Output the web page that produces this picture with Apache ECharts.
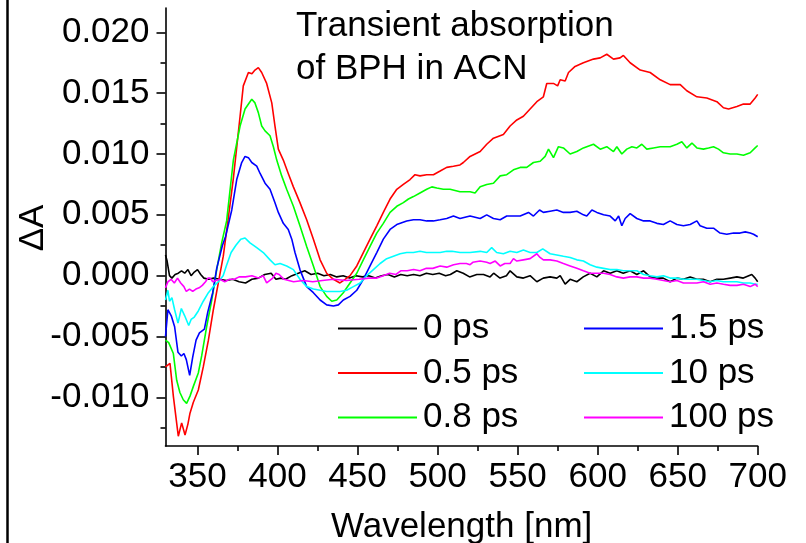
<!DOCTYPE html>
<html>
<head>
<meta charset="utf-8">
<script src="https://cdn.jsdelivr.net/npm/echarts@6/dist/echarts.min.js"></script>
<style>
  html, body { margin: 0; padding: 0; background: #fff; }
  #chart { width: 806px; height: 543px; }
</style>
</head>
<body>
<div id="chart"></div>
<script>
// Transient absorption spectra of BPH in acetonitrile at several pump-probe delays.
// Each delay has its own wavelength list (nm) and ΔA values.

const wl_0ps = [330, 331, 332.5, 334, 336, 338, 340, 342, 344, 346, 348, 350, 352, 354, 357, 360, 364, 368, 372, 376, 380, 384, 388, 392, 396, 399, 402, 405, 409, 413, 417, 421, 425, 429, 433, 437, 441, 445, 449, 453, 457, 461, 465, 469, 473, 477, 481, 485, 489, 493, 497, 501, 505, 508, 512, 516, 520, 524.5, 528.7, 532.8, 535, 539, 543, 545.3, 549.5, 553.6, 557.8, 562, 566, 570.3, 574.5, 576.6, 579.7, 582.8, 587, 591, 595.3, 599.5, 603.7, 607.8, 612, 616, 620.3, 624.5, 628.7, 632.8, 637, 641, 645.3, 649.5, 653.6, 657.8, 662, 666, 670.3, 674.5, 678.6, 682.8, 687, 691, 696.3, 698.4, 700];
const dA_0ps = [0.0017, 0.0012, 0.0000, -0.0002, 0.0001, 0.0002, 0.0004, 0.0002, 0.0005, 0.0000, 0.0003, 0.0005, 0.0001, -0.0002, -0.0003, -0.0002, -0.0003, -0.0004, -0.0003, -0.0005, -0.0006, -0.0003, -0.0002, 0.0001, 0.0002, -0.0003, -0.0002, -0.0003, 0.0000, 0.0002, 0.0004, 0.0001, 0.0002, 0.0000, 0.0001, -0.0001, 0.0000, -0.0002, 0.0000, -0.0001, 0.0000, -0.0002, 0.0000, 0.0001, -0.0001, 0.0001, 0.0000, 0.0001, 0.0000, 0.0002, 0.0001, 0.0002, 0.0000, 0.0001, 0.0004, 0.0002, -0.0001, 0.0001, 0.0001, -0.0001, 0.0002, -0.0002, 0.0000, 0.0004, -0.0001, -0.0002, 0.0000, -0.0005, -0.0002, -0.0001, -0.0002, 0.0000, -0.0007, -0.0003, -0.0005, -0.0001, 0.0002, -0.0001, 0.0004, 0.0002, 0.0004, 0.0002, 0.0004, 0.0001, 0.0004, -0.0001, -0.0002, -0.0002, -0.0005, -0.0002, -0.0003, -0.0001, -0.0003, -0.0003, -0.0005, -0.0003, -0.0003, -0.0002, -0.0001, -0.0002, 0.0001, -0.0002, -0.0005];

const wl_05ps = [330, 332.8, 334.9, 336.5, 338, 340.1, 342.2, 344, 345.3, 347.4, 350.5, 353.6, 356.8, 359.9, 363, 366.1, 369, 372.4, 376.6, 378.6, 381.8, 384, 385.9, 388, 390.1, 393.2, 396.4, 398.4, 400.5, 403.6, 406.7, 409.9, 414, 418.2, 422.4, 426.6, 430.7, 434.9, 439, 442.2, 445.3, 449.5, 453.6, 457.8, 462, 466.1, 470.3, 474.5, 478.6, 482.8, 485.9, 489, 493.2, 497.4, 501.6, 505.7, 509.9, 514, 516.1, 520.3, 526.6, 530.7, 534.9, 541.1, 545.3, 549.5, 553.6, 557.8, 562, 566.1, 568.2, 572.4, 575, 576.6, 579.7, 581.8, 585.9, 591.1, 597.4, 601.6, 605.7, 609.9, 614, 616.1, 620.3, 626.6, 632.8, 639.1, 645.3, 651.6, 655.7, 662, 668.2, 674.5, 678.6, 681.8, 687, 691.1, 695.3, 698.4, 700];
const dA_05ps = [-0.0075, -0.0072, -0.0099, -0.0116, -0.0132, -0.0121, -0.0131, -0.0122, -0.0113, -0.0104, -0.0094, -0.0075, -0.0053, -0.0028, -0.0006, 0.0016, 0.0045, 0.0080, 0.0131, 0.0156, 0.0167, 0.0166, 0.0169, 0.0171, 0.0167, 0.0158, 0.0142, 0.0123, 0.0104, 0.0095, 0.0084, 0.0073, 0.0060, 0.0046, 0.0030, 0.0013, 0.0002, -0.0003, -0.0006, -0.0003, 0.0000, 0.0008, 0.0019, 0.0030, 0.0041, 0.0052, 0.0063, 0.0071, 0.0075, 0.0079, 0.0083, 0.0082, 0.0083, 0.0083, 0.0086, 0.0089, 0.0090, 0.0091, 0.0093, 0.0098, 0.0102, 0.0108, 0.0113, 0.0116, 0.0123, 0.0128, 0.0131, 0.0137, 0.0143, 0.0147, 0.0158, 0.0158, 0.0156, 0.0161, 0.0160, 0.0167, 0.0172, 0.0175, 0.0178, 0.0179, 0.0182, 0.0178, 0.0179, 0.0181, 0.0175, 0.0169, 0.0167, 0.0161, 0.0157, 0.0157, 0.0152, 0.0147, 0.0146, 0.0143, 0.0138, 0.0137, 0.0139, 0.0141, 0.0141, 0.0146, 0.0149];

const wl_08ps = [330, 332, 334.9, 337, 339, 341.1, 343.2, 345.3, 347.4, 350.5, 352.6, 355.7, 358.9, 362, 365.1, 368.2, 372.4, 376.6, 379.7, 382.8, 383.9, 385.9, 388, 390.1, 392.2, 395.3, 397.4, 399.5, 402.6, 405.7, 409.9, 414, 418.2, 422.4, 426.6, 430.7, 433.9, 437, 441.1, 445.3, 449.5, 453.6, 457.8, 462, 466.1, 470.3, 474.5, 478.6, 481.8, 484.9, 489, 493.2, 496.4, 499.5, 503.6, 507.8, 514, 520.3, 523.4, 526.6, 530.7, 534.9, 539.1, 543.2, 547.4, 551.6, 555.7, 559.9, 564.1, 567.2, 569.3, 572.4, 575.5, 578.6, 582.8, 587, 591.1, 597.4, 601.6, 605.7, 609.9, 612, 615.1, 618.2, 621.4, 624.5, 627.6, 630.7, 634.9, 639.1, 645.3, 649.5, 652.6, 655.7, 658.9, 662, 666.1, 669.3, 672.4, 675.5, 678.6, 682.8, 687, 691.1, 695.3, 698.4, 700];
const dA_08ps = [-0.0053, -0.0055, -0.0064, -0.0086, -0.0096, -0.0102, -0.0105, -0.0099, -0.0091, -0.0080, -0.0066, -0.0042, -0.0020, 0.0005, 0.0027, 0.0045, 0.0095, 0.0123, 0.0137, 0.0143, 0.0145, 0.0142, 0.0134, 0.0123, 0.0119, 0.0115, 0.0106, 0.0095, 0.0082, 0.0071, 0.0057, 0.0041, 0.0024, 0.0008, -0.0009, -0.0017, -0.0021, -0.0020, -0.0014, -0.0006, 0.0002, 0.0013, 0.0024, 0.0035, 0.0043, 0.0052, 0.0057, 0.0060, 0.0063, 0.0065, 0.0068, 0.0071, 0.0073, 0.0072, 0.0071, 0.0071, 0.0069, 0.0069, 0.0068, 0.0073, 0.0075, 0.0076, 0.0082, 0.0083, 0.0087, 0.0089, 0.0089, 0.0093, 0.0094, 0.0098, 0.0104, 0.0097, 0.0106, 0.0105, 0.0100, 0.0102, 0.0105, 0.0108, 0.0104, 0.0106, 0.0102, 0.0106, 0.0100, 0.0104, 0.0106, 0.0105, 0.0108, 0.0104, 0.0105, 0.0106, 0.0106, 0.0108, 0.0110, 0.0105, 0.0109, 0.0105, 0.0104, 0.0105, 0.0106, 0.0104, 0.0101, 0.0100, 0.0100, 0.0099, 0.0101, 0.0105, 0.0107];

const wl_15ps = [330, 331.5, 333.6, 335.7, 337.8, 339.9, 341.5, 343, 345.1, 347, 349.1, 351.2, 354.3, 356.4, 359.5, 362, 365.6, 367.5, 371.4, 374.5, 377.6, 379.7, 381.8, 383.9, 387, 389.1, 392.2, 395.3, 398.4, 400.5, 403.6, 406.7, 408.9, 410.9, 414, 418.2, 422.4, 426.6, 430.7, 434.9, 438, 441.1, 445.3, 449.5, 453.6, 457.8, 462, 466.1, 470.3, 474.5, 480.7, 484.9, 489, 493.2, 497.4, 501.6, 505.7, 509.9, 514, 520.3, 526.6, 530.7, 534.9, 539.1, 543.2, 547.4, 551.6, 556.8, 559.9, 563.7, 566.1, 570.3, 574.5, 578.6, 582.8, 587, 591.1, 593.2, 596.4, 599.5, 603.7, 607.8, 611, 613.1, 615.1, 617.2, 620.3, 624.5, 628.7, 632.8, 637, 641.1, 645.3, 649.5, 653.6, 657.8, 662, 664, 668.2, 672.4, 676.5, 680.7, 684.9, 689, 692.2, 695.3, 697.4, 700];
const dA_15ps = [-0.0050, -0.0028, -0.0033, -0.0042, -0.0063, -0.0066, -0.0064, -0.0069, -0.0082, -0.0067, -0.0053, -0.0047, -0.0044, -0.0030, -0.0014, 0.0006, 0.0025, 0.0032, 0.0054, 0.0079, 0.0093, 0.0098, 0.0097, 0.0093, 0.0090, 0.0084, 0.0076, 0.0071, 0.0060, 0.0052, 0.0043, 0.0038, 0.0030, 0.0019, 0.0005, -0.0009, -0.0014, -0.0020, -0.0024, -0.0025, -0.0024, -0.0020, -0.0017, -0.0012, -0.0003, 0.0008, 0.0019, 0.0030, 0.0038, 0.0042, 0.0045, 0.0046, 0.0046, 0.0045, 0.0045, 0.0046, 0.0047, 0.0049, 0.0047, 0.0049, 0.0047, 0.0050, 0.0047, 0.0046, 0.0049, 0.0049, 0.0049, 0.0052, 0.0049, 0.0054, 0.0052, 0.0053, 0.0054, 0.0052, 0.0052, 0.0053, 0.0050, 0.0049, 0.0054, 0.0052, 0.0050, 0.0049, 0.0045, 0.0049, 0.0041, 0.0047, 0.0051, 0.0047, 0.0045, 0.0045, 0.0043, 0.0042, 0.0045, 0.0042, 0.0041, 0.0042, 0.0045, 0.0041, 0.0039, 0.0039, 0.0035, 0.0034, 0.0035, 0.0035, 0.0036, 0.0035, 0.0034, 0.0032];

const wl_10ps = [330, 331.5, 332.5, 334, 335.7, 337.8, 339.9, 342, 344.5, 346, 348, 350.5, 353.6, 356.8, 359.9, 363, 366, 368, 371, 374, 377, 379.7, 382.8, 387, 391.1, 395.3, 398.4, 401.6, 405.7, 409.9, 414, 418.2, 422.4, 426.6, 430.7, 434.9, 439, 443.2, 447.4, 451.6, 455.7, 459.9, 464.1, 468.2, 472.4, 476.6, 480.7, 484.9, 489, 493, 497, 501.6, 505.7, 509, 514, 520.3, 526.6, 530.7, 533.8, 536.9, 541.1, 545.3, 549.5, 553.6, 557.8, 562, 565.7, 570.3, 574.5, 578.6, 582.8, 587, 591.1, 595.3, 599.5, 603.7, 607.8, 612, 616.1, 620.3, 624.5, 628.7, 632.8, 637, 641.1, 645.3, 649.5, 653.6, 657.8, 662, 666.1, 670.3, 674.5, 678.6, 682.8, 687, 691.1, 695.3, 698.4, 700];
const dA_10ps = [-0.0020, -0.0012, -0.0021, -0.0018, -0.0028, -0.0039, -0.0027, -0.0033, -0.0041, -0.0036, -0.0034, -0.0029, -0.0021, -0.0014, -0.0009, -0.0005, 0.0000, 0.0008, 0.0019, 0.0025, 0.0030, 0.0031, 0.0027, 0.0023, 0.0019, 0.0013, 0.0009, 0.0010, 0.0008, 0.0005, -0.0003, -0.0009, -0.0011, -0.0012, -0.0013, -0.0013, -0.0013, -0.0012, -0.0009, -0.0006, 0.0000, 0.0005, 0.0010, 0.0014, 0.0016, 0.0018, 0.0019, 0.0019, 0.0020, 0.0019, 0.0019, 0.0019, 0.0020, 0.0020, 0.0019, 0.0019, 0.0020, 0.0019, 0.0023, 0.0019, 0.0018, 0.0020, 0.0019, 0.0021, 0.0019, 0.0019, 0.0022, 0.0018, 0.0017, 0.0016, 0.0015, 0.0013, 0.0012, 0.0009, 0.0007, 0.0006, 0.0005, 0.0005, 0.0004, 0.0004, 0.0004, 0.0001, 0.0000, -0.0001, 0.0000, -0.0002, -0.0002, -0.0003, -0.0003, -0.0003, -0.0004, -0.0005, -0.0004, -0.0005, -0.0005, -0.0005, -0.0006, -0.0006, -0.0007, -0.0007];

const wl_100ps = [330, 331.5, 333.5, 335.5, 337.5, 339.5, 341.5, 343, 345, 347, 349, 351, 353, 355, 356.5, 358, 359.5, 361.5, 364, 367, 370, 373, 376, 380, 384, 388, 391, 393.2, 397, 399, 401, 404, 410, 416, 422, 428, 435, 443, 451, 457, 462, 466, 470, 474, 477, 481, 485, 489, 493, 497, 501.6, 505.7, 510, 514, 518, 520.3, 522, 526.6, 530.7, 532.8, 536, 539.1, 542, 545.3, 547.4, 549.5, 553.6, 557.8, 562, 564, 566.1, 570.3, 574.5, 578.6, 582.8, 587, 591.1, 595.3, 599.5, 603.7, 607.8, 612, 616.1, 620.3, 624.5, 628.7, 632.8, 637, 641.1, 645.3, 649.5, 653.6, 657.8, 662, 666.1, 670.3, 674.5, 678.6, 682.8, 687, 691.1, 695.3, 698.4, 700];
const dA_100ps = [-0.0010, -0.0005, -0.0003, -0.0006, -0.0002, -0.0006, -0.0009, -0.0013, -0.0011, -0.0013, -0.0011, -0.0010, -0.0008, -0.0005, -0.0002, -0.0002, -0.0005, -0.0004, -0.0003, -0.0005, -0.0003, -0.0003, -0.0001, -0.0001, 0.0000, -0.0002, 0.0000, -0.0006, -0.0002, 0.0002, 0.0001, -0.0003, -0.0005, -0.0004, -0.0005, -0.0004, -0.0003, -0.0004, -0.0003, -0.0002, -0.0002, 0.0000, 0.0002, 0.0001, 0.0004, 0.0004, 0.0005, 0.0004, 0.0006, 0.0006, 0.0008, 0.0007, 0.0009, 0.0010, 0.0010, 0.0009, 0.0011, 0.0012, 0.0011, 0.0010, 0.0012, 0.0008, 0.0010, 0.0010, 0.0014, 0.0012, 0.0013, 0.0014, 0.0018, 0.0015, 0.0013, 0.0013, 0.0012, 0.0010, 0.0008, 0.0006, 0.0004, 0.0002, 0.0002, 0.0002, 0.0001, -0.0001, -0.0002, -0.0001, -0.0001, -0.0002, -0.0002, -0.0003, -0.0004, -0.0005, -0.0004, -0.0006, -0.0006, -0.0006, -0.0005, -0.0007, -0.0006, -0.0007, -0.0008, -0.0008, -0.0007, -0.0009, -0.0007, -0.0009];

const delayNames = ['0 ps', '0.5 ps', '0.8 ps', '1.5 ps', '10 ps', '100 ps'];
const delayColors = ['#000000', '#ff0000', '#00ff00', '#0000ff', '#00ffff', '#ff00ff'];
const wavelengths = [wl_0ps, wl_05ps, wl_08ps, wl_15ps, wl_10ps, wl_100ps];
const absorbance = [dA_0ps, dA_05ps, dA_08ps, dA_15ps, dA_10ps, dA_100ps];

const xTicks = [350, 400, 450, 500, 550, 600, 650, 700];
const xMinorTicks = [375, 425, 475, 525, 575, 625, 675];
const yTicks = [-0.010, -0.005, 0.000, 0.005, 0.010, 0.015, 0.020];
const yMinorTicks = [-0.0125, -0.0075, -0.0025, 0.0025, 0.0075, 0.0125, 0.0175];

const FONT = 'Liberation Sans, Arial, sans-serif';
const FS = 35;

const chart = echarts.init(document.getElementById('chart'), null, { renderer: 'canvas' });

function pairs(xs, ys) {
  return xs.map((x, i) => [x, ys[i]]);
}

const series = delayNames.map((name, i) => ({
  name: name,
  type: 'line',
  xAxisIndex: 0,
  yAxisIndex: 0,
  data: pairs(wavelengths[i], absorbance[i]),
  showSymbol: false,
  symbol: 'none',
  smooth: false,
  lineStyle: { color: delayColors[i], width: 1.6 },
  itemStyle: { color: delayColors[i] },
  animation: false,
  z: 2 + i
}));

const axisColor = '#000';
const legendText = { fontFamily: FONT, fontSize: FS, color: '#000', lineHeight: 34, padding: [0, 0, 0, 1] };

chart.setOption({
  animation: false,
  backgroundColor: '#fff',
  grid: { left: 165.5, right: 48.3, top: 8, bottom: 97, containLabel: false, outerBoundsMode: 'none' },
  title: {
    text: 'Transient absorption\nof BPH in ACN',
    left: 291,
    top: 0,
    textStyle: { fontFamily: FONT, fontSize: FS, fontWeight: 'normal', color: '#000', lineHeight: 43 }
  },
  legend: [
    {
      data: delayNames.slice(0, 3),
      orient: 'vertical',
      left: 333,
      top: 306,
      icon: 'rect',
      itemWidth: 79,
      itemHeight: 2,
      itemGap: 9.5,
      textStyle: legendText
    },
    {
      data: delayNames.slice(3),
      orient: 'vertical',
      left: 579,
      top: 306,
      icon: 'rect',
      itemWidth: 79,
      itemHeight: 2,
      itemGap: 9.5,
      textStyle: legendText
    }
  ],
  xAxis: [
    {
      type: 'value',
      min: 330,
      max: 700,
      position: 'bottom',
      name: 'Wavelength [nm]',
      nameLocation: 'middle',
      nameGap: 64,
      nameMoveOverlap: false,
      nameTextStyle: { fontFamily: FONT, fontSize: FS, color: '#000' },
      axisLine: { show: true, onZero: false, lineStyle: { color: axisColor, width: 1.6 } },
      axisTick: { show: true, inside: false, length: 9, customValues: xTicks, lineStyle: { color: axisColor, width: 1.6 } },
      axisLabel: { show: true, customValues: xTicks, margin: 14, fontFamily: FONT, fontSize: FS, color: '#000' },
      splitLine: { show: false }
    },
    {
      type: 'value',
      min: 330,
      max: 700,
      position: 'bottom',
      axisLine: { show: false, onZero: false },
      axisTick: { show: true, inside: false, length: 5, customValues: xMinorTicks, lineStyle: { color: axisColor, width: 1.6 } },
      axisLabel: { show: false },
      splitLine: { show: false }
    }
  ],
  yAxis: [
    {
      type: 'value',
      min: -0.014,
      max: 0.022,
      position: 'left',
      axisLine: { show: true, onZero: false, lineStyle: { color: axisColor, width: 1.6 } },
      axisTick: { show: true, inside: false, length: 9, customValues: yTicks, lineStyle: { color: axisColor, width: 1.6 } },
      axisLabel: {
        show: true,
        customValues: yTicks,
        margin: 16,
        fontFamily: FONT,
        fontSize: FS,
        color: '#000',
        formatter: v => v.toFixed(3)
      },
      splitLine: { show: false }
    },
    {
      type: 'value',
      min: -0.014,
      max: 0.022,
      position: 'left',
      axisLine: { show: false, onZero: false },
      axisTick: { show: true, inside: false, length: 5, customValues: yMinorTicks, lineStyle: { color: axisColor, width: 1.6 } },
      axisLabel: { show: false },
      splitLine: { show: false }
    }
  ],
  graphic: [
    {
      type: 'line',
      shape: { x1: 7.5, y1: 0, x2: 7.5, y2: 543 },
      style: { stroke: '#000', lineWidth: 2.5 },
      silent: true
    },
    {
      // y-axis title, rotated to read bottom-to-top
      type: 'text',
      x: 33,
      y: 228,
      rotation: Math.PI / 2,
      silent: true,
      style: {
        text: 'ΔA',
        fontFamily: FONT,
        fontSize: FS,
        fill: '#000',
        align: 'center',
        verticalAlign: 'middle'
      }
    }
  ],
  series: series
});
</script>
</body>
</html>
